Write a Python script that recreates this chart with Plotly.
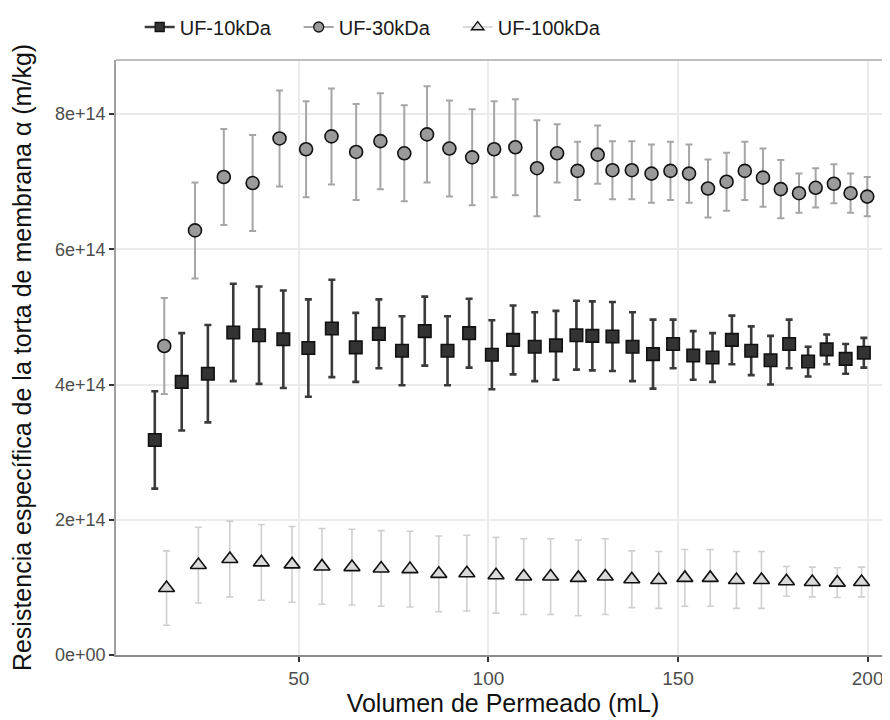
import plotly.graph_objects as go

SCALE = 1e14  # values below are in units of 1e14 m/kg

# UF-10kDa
vol_10 = [12.0, 19.1, 26.0, 32.7, 39.5, 45.9, 52.5, 58.7, 65.0, 71.1, 77.2, 83.2,
          89.2, 94.9, 100.9, 106.5, 112.2, 117.8, 123.2, 127.4, 132.7, 138.0, 143.4,
          148.7, 154.0, 159.1, 164.2, 169.3, 174.4, 179.3, 184.3, 189.2, 194.2, 199.0]
alpha_10 = [3.18, 4.04, 4.16, 4.77, 4.73, 4.67, 4.54, 4.83, 4.55, 4.75, 4.50, 4.79,
            4.50, 4.76, 4.44, 4.66, 4.56, 4.58, 4.73, 4.72, 4.71, 4.56, 4.45,
            4.60, 4.43, 4.40, 4.66, 4.50, 4.36, 4.60, 4.34, 4.52, 4.38, 4.47]
sd_10 = [0.72] * 8 + [0.51] * 15 + [0.36] * 7 + [0.22] * 4

# UF-30kDa
vol_30 = [14.5, 22.6, 30.2, 37.8, 44.9, 51.9, 58.6, 65.1, 71.5, 77.8, 83.8, 89.7,
          95.7, 101.5, 107.1, 112.8, 118.1, 123.5, 128.8, 132.7, 137.8, 143.0, 148.0,
          152.9, 157.9, 162.8, 167.6, 172.4, 177.1, 181.9, 186.3, 191.1, 195.5, 199.9]
alpha_30 = [4.57, 6.28, 7.07, 6.98, 7.64, 7.48, 7.67, 7.44, 7.60, 7.42, 7.70, 7.49,
            7.36, 7.48, 7.51, 7.20, 7.42, 7.16, 7.40, 7.17, 7.17, 7.12, 7.16,
            7.12, 6.90, 7.00, 7.16, 7.06, 6.89, 6.83, 6.91, 6.97, 6.83, 6.78]
sd_30 = [0.71] * 16 + [0.43] * 13 + [0.29] * 5

# UF-100kDa
vol_100 = [15.1, 23.5, 31.8, 40.1, 48.2, 56.1, 64.0, 71.7, 79.3, 86.9, 94.3, 102.0,
           109.3, 116.4, 123.7, 130.8, 137.8, 144.9, 151.8, 158.5, 165.4, 172.0,
           178.6, 185.4, 192.0, 198.4]
alpha_100 = [0.99, 1.33, 1.42, 1.37, 1.34, 1.31, 1.30, 1.28, 1.27, 1.20, 1.21, 1.18,
             1.16, 1.16, 1.14, 1.16, 1.12, 1.11, 1.14, 1.14, 1.11, 1.11,
             1.09, 1.08, 1.07, 1.08]
sd_100 = [0.55] + [0.56] * 15 + [0.42] * 6 + [0.22] * 4

series_names = ["UF-10kDa", "UF-30kDa", "UF-100kDa"]
y_tickvals = [0, 2, 4, 6, 8]
y_ticktext = ["0e+00", "2e+14", "4e+14", "6e+14", "8e+14"]
x_tickvals = [50, 100, 150, 200]

FONT = "Liberation Sans, Arial, Helvetica, sans-serif"

styles = [
    dict(symbol="square", size=12.5, fill="#333333", err="#3a3a3a", errw=2.6, cap=3.5, lsize=9),
    dict(symbol="circle", size=13, fill="#9a9a9a", err="#a6a6a6", errw=2.0, cap=3.5, lsize=10),
    dict(symbol="triangle-up", size=14, fill="#d9d9d9", err="#cfcfcf", errw=1.6, cap=3.5, lsize=11),
]
data = [(vol_10, alpha_10, sd_10), (vol_30, alpha_30, sd_30), (vol_100, alpha_100, sd_100)]

fig = go.Figure()
for name, (xs, ys, sds), st in zip(series_names, data, styles):
    fig.add_trace(go.Scatter(
        x=xs, y=[v * SCALE for v in ys], mode="markers", name=name, showlegend=False,
        error_y=dict(type="data", array=[s * SCALE for s in sds], visible=True,
                     color=st["err"], thickness=st["errw"], width=st["cap"]),
        marker=dict(symbol=st["symbol"], size=st["size"], color=st["fill"],
                    line=dict(color="#111111", width=1.6)),
    ))
for name, st in zip(series_names, styles):
    fig.add_trace(go.Scatter(
        x=[None], y=[None], mode="lines+markers", name=name, showlegend=True,
        line=dict(color=st["err"], width=st["errw"]),
        marker=dict(symbol=st["symbol"], size=st["lsize"], color=st["fill"],
                    line=dict(color="#111111", width=1.3)),
    ))

# The page body has an 8px default margin, so the figure is sized to fill the rest.
fig.update_layout(
    width=882, height=712,
    margin=dict(l=108, r=0, t=52, b=65, autoexpand=False),
    paper_bgcolor="white", plot_bgcolor="white",
    font=dict(family=FONT, size=19, color="#1a1a1a"),
    showlegend=True,
    legend=dict(orientation="h", xref="container", yref="container",
                x=0.1493, y=1 - 19 / 712, xanchor="left", yanchor="middle",
                entrywidth=114, entrywidthmode="pixels",
                font=dict(size=20, color="#1a1a1a"), bgcolor="rgba(0,0,0,0)",
                itemclick=False),
    xaxis=dict(
        range=[1.77, 205.9], tickvals=x_tickvals, automargin=False,
        showgrid=True, gridcolor="#ebebeb", gridwidth=1.5, zeroline=False,
        showline=True, linecolor="#8c8c8c", linewidth=1.5,
        ticks="outside", ticklen=5, tickcolor="#333333", tickwidth=1.5,
        tickfont=dict(size=19, color="#4d4d4d"),
        title=dict(text="Volumen de Permeado (mL)", font=dict(size=25, color="#111111"), standoff=4),
    ),
    yaxis=dict(
        range=[0, 8.80e14], tickvals=[v * SCALE for v in y_tickvals], ticktext=y_ticktext,
        automargin=False,
        showgrid=True, gridcolor="#ebebeb", gridwidth=1.5, zeroline=False,
        showline=True, linecolor="#a0a0a0", linewidth=1.5,
        ticks="outside", ticklen=5, tickcolor="#333333", tickwidth=1.5,
        tickfont=dict(size=18, color="#4d4d4d"),
        title=dict(text="Resistencia específica de la torta de membrana α (m/kg)",
                   font=dict(size=25, color="#111111"), standoff=22),
    ),
    shapes=[dict(type="line", xref="paper", yref="paper", x0=0, x1=1, y0=1, y1=1,
                 line=dict(color="#aaaaaa", width=1.6))],
)

fig.write_html("out.html")
